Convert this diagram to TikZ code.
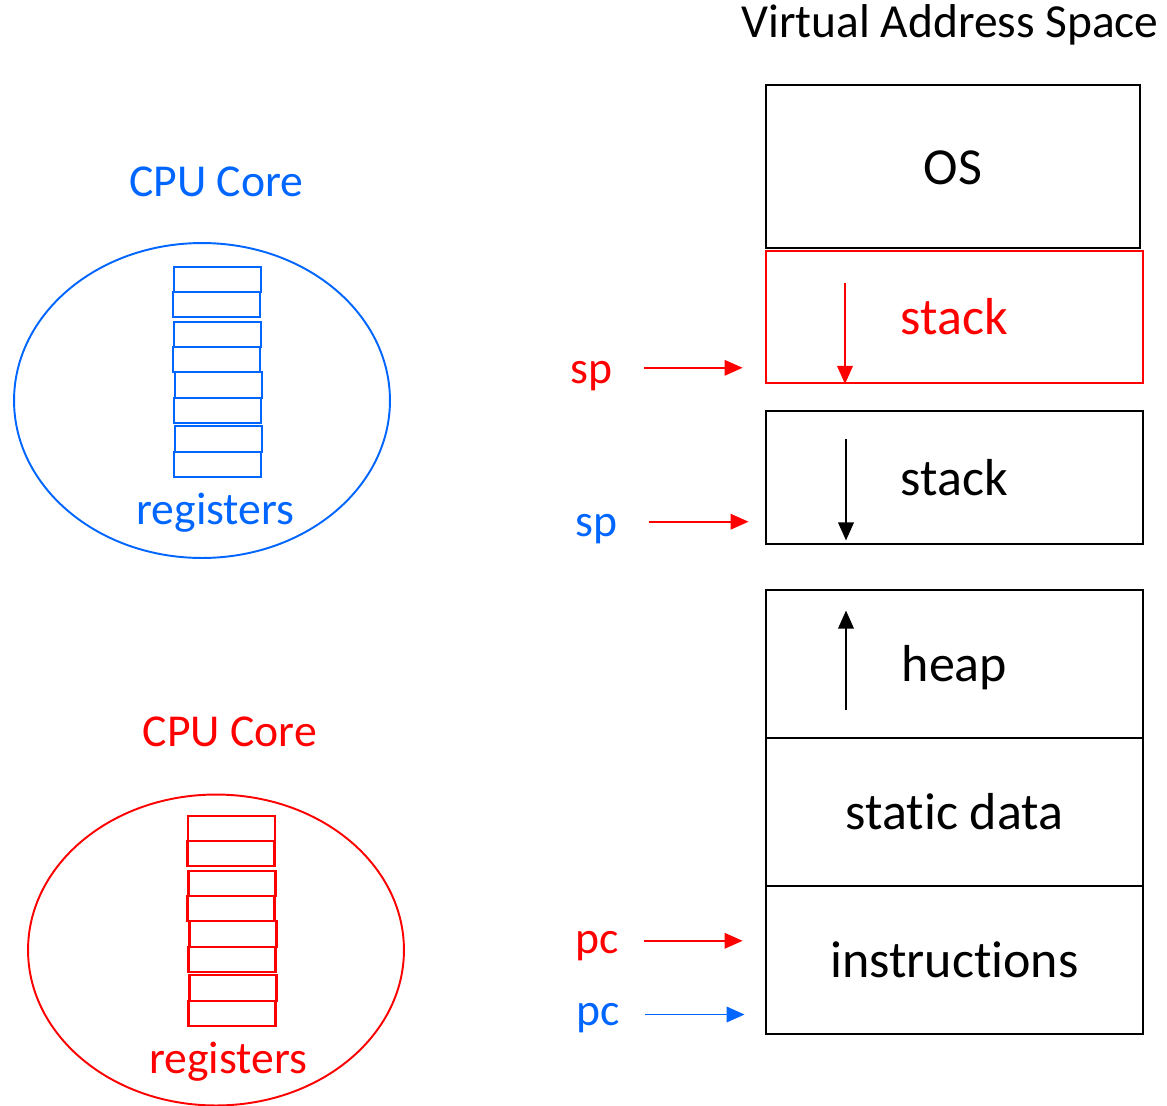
\documentclass[tikz,border=0pt]{standalone}
\usepackage{fontspec}
\setmainfont{Carlito}[Ligatures=NoCommon]
\usepackage{xcolor}
\usetikzlibrary{arrows.meta,positioning,calc}
\definecolor{coreblue}{RGB}{0,102,255}
\definecolor{corered}{RGB}{255,0,0}
\newcommand{\segfont}{\fontsize{29.6}{34}\selectfont}
\newcommand{\lblfont}{\fontsize{26}{30}\selectfont}

\begin{document}
\begin{tikzpicture}[x=0.02cm,y=-0.02cm,>={Triangle[length=0.36cm,width=0.31cm]},
  seg/.style={draw=black,line width=1.1pt,inner sep=0pt,font=\segfont,
              minimum width=7.54cm,text height=21.3pt,text depth=1.3pt},
  lbl/.style={font=\lblfont,inner sep=0pt,anchor=base},
  reg/.style={line width=1.2pt},
  core/.style={line width=1.1pt},
  ptr/.style={->,line width=1.1pt},
  growarr/.style={->,line width=1.1pt}]
\useasboundingbox (0,0) rectangle (1167,1106);
% ---------------- address space
\node[lbl,font=\fontsize{27}{30}\selectfont] (vas) at (950,37.7) {Virtual Address Space};
\node[seg,minimum width=7.48cm,minimum height=3.26cm] (os) at (953,166.5) {OS};
\node[seg,draw=corered,text=corered,minimum height=2.64cm] (stkA) at (954.5,317) {stack};
\node[seg,minimum height=2.66cm] (stkB) at (954.5,477.5) {stack};
\node[seg,minimum height=2.96cm] (heap) at (954.5,664) {heap};
\node[seg,minimum height=2.96cm] (stat) at (954.5,812) {static data};
\node[seg,minimum height=2.96cm] (instr) at (954.5,960) {instructions};
\coordinate (dnA) at (845,283.3);
\coordinate (dnB) at (846,439.3);
\coordinate (upH) at (846,710);
\draw[growarr,corered] (dnA) -- (dnA |- stkA.south);
\draw[growarr,shorten >=0.09cm] (dnB) -- (dnB |- stkB.south);
\draw[growarr,shorten >=0.43cm] (upH) -- (upH |- heap.north);
% ---------------- cores
\node[lbl,text=coreblue] (cpuA) at (216.3,196.7) {CPU Core};
\node[lbl,text=coreblue] (regA) at (215.5,524) {registers};
\draw[core,coreblue] (202,400.5) ellipse [x radius=3.76cm,y radius=3.15cm];
\node[lbl,text=corered] (cpuB) at (230,746.7) {CPU Core};
\node[lbl,text=corered] (regB) at (228.3,1073) {registers};
\draw[core,corered] (216,950) ellipse [x radius=3.76cm,y radius=3.11cm];
\foreach \c/\bx/\by in {coreblue/173/0,corered/187.5/549}
  \foreach \dx/\y in {0.7/266.7,0/291.7,1/321.7,0/346.7,2/372.3,1/397.7,2/426.3,1/451.7}
    \draw[reg,draw=\c] (\bx+\dx,\by+\y) rectangle ++(87,25.3);
% ---------------- pointers
\node[lbl,text=corered] (spA) at (591.5,383.3) {sp};
\node[lbl,text=coreblue] (spB) at (596.5,536.7) {sp};
\node[lbl,text=corered] (pcA) at (596.7,953.3) {pc};
\node[lbl,text=coreblue] (pcB) at (598,1025) {pc};
\draw[ptr,corered,shorten <=0.62cm,shorten >=0.45cm]
  ([yshift=0.31cm]spA.base east) -- ([yshift=0.31cm]spA.base east -| stkA.west);
\draw[ptr,corered,shorten <=0.62cm,shorten >=0.33cm]
  ([yshift=0.30cm]spB.base east) -- ([yshift=0.30cm]spB.base east -| stkB.west);
\draw[ptr,corered,shorten <=0.51cm,shorten >=0.45cm]
  ([yshift=0.25cm]pcA.base east) -- ([yshift=0.25cm]pcA.base east -| instr.west);
\draw[ptr,coreblue,shorten <=0.50cm,shorten >=0.41cm]
  ([yshift=0.21cm]pcB.base east) -- ([yshift=0.21cm]pcB.base east -| instr.west);
\end{tikzpicture}
\end{document}
